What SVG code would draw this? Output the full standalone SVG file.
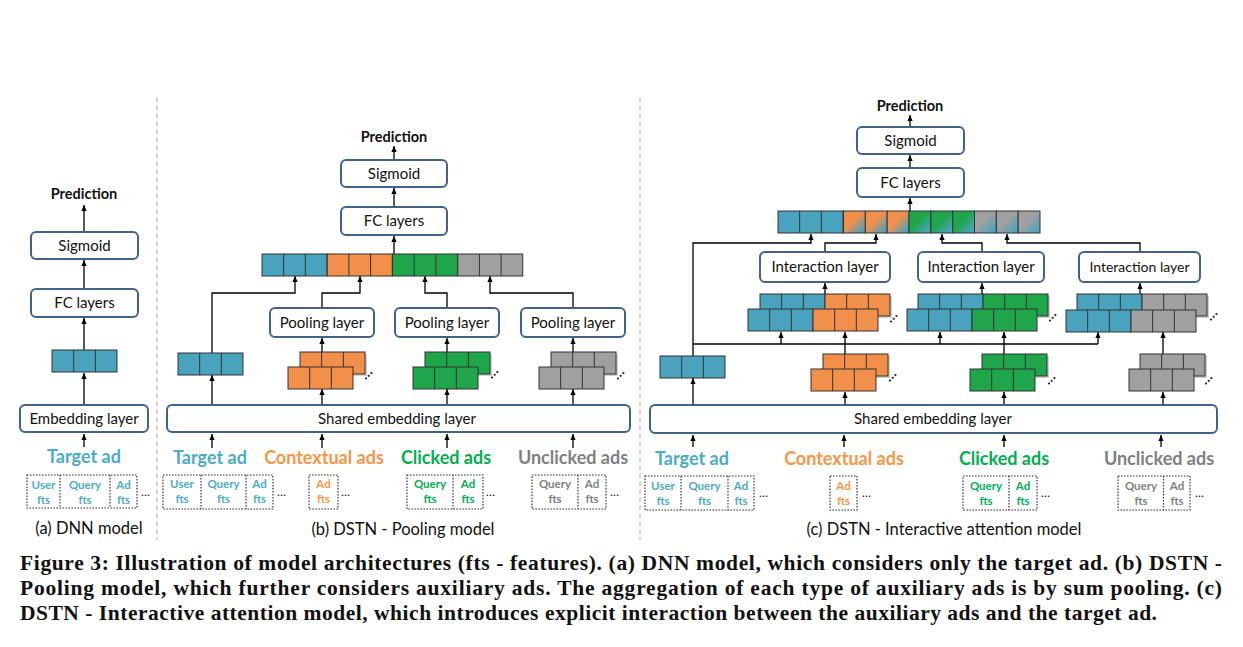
<svg xmlns="http://www.w3.org/2000/svg" xmlns:xlink="http://www.w3.org/1999/xlink" width="1243" height="647" viewBox="0 0 1243 647">
<style>
.box{fill:#fff;stroke:#41628f;stroke-width:2}
.lbl{font-family:Lato,"Liberation Sans",sans-serif;font-size:15px;fill:#111;text-anchor:middle}
.pred{font-family:Lato,"Liberation Sans",sans-serif;font-size:14.5px;font-weight:bold;fill:#111;text-anchor:middle}
.src{font-family:Lato,"Liberation Sans",sans-serif;font-size:18px;font-weight:bold;text-anchor:middle}
.ft{font-family:Lato,"Liberation Sans",sans-serif;font-size:11.5px;font-weight:bold;text-anchor:middle}
.ell{font-family:Lato,"Liberation Sans",sans-serif;font-size:12px;fill:#111}
.sub{font-family:Lato,"Liberation Sans",sans-serif;font-size:16.5px;fill:#111;text-anchor:middle}
.cap{font-family:"Liberation Serif",serif;font-size:21.5px;font-weight:bold;fill:#111}
.fbox{fill:none;stroke:#333;stroke-width:1.2;stroke-dasharray:1.6 1.4}
.arr{fill:none;stroke:#000;stroke-width:1.3;marker-end:url(#ah)}
.ln{fill:none;stroke:#000;stroke-width:1.3}
.sep{stroke:#c4c4c4;stroke-width:1.3;stroke-dasharray:5 3}
.cell{stroke:#333;stroke-width:1}
.shadow{fill:#bdbdbd;opacity:0.7}
.t{fill:#4bacc6}.o{fill:#f79646}.g{fill:#00b050}.y{fill:#808080}
</style>
<defs>
<marker id="ah" viewBox="0 0 6 6" refX="6" refY="3" markerWidth="6" markerHeight="6" markerUnits="userSpaceOnUse" orient="auto"><path d="M0,0.4L6,3L0,5.6z" fill="#000"/></marker>
<g id="c3"><rect width="65" height="22" stroke="#333" stroke-width="1"/><path d="M21.67,0V22M43.33,0V22" stroke="#333" stroke-width="1" fill="none"/></g>
<g id="dots" fill="#222"><circle cx="0" cy="4.5" r="1.1"/><circle cx="2.7" cy="1.8" r="1.1"/><circle cx="5.4" cy="-0.9" r="1.1"/></g>
<linearGradient id="go" x1="0" y1="0" x2="1" y2="1"><stop offset="0.45" stop-color="#f28f4a"/><stop offset="0.9" stop-color="#4aa3be"/></linearGradient>
<linearGradient id="gg" x1="0" y1="0" x2="1" y2="1"><stop offset="0.45" stop-color="#1fa64a"/><stop offset="0.9" stop-color="#4aa3be"/></linearGradient>
<linearGradient id="gy" x1="0" y1="0" x2="1" y2="1"><stop offset="0.45" stop-color="#a0a0a0"/><stop offset="0.9" stop-color="#4aa3be"/></linearGradient>
</defs>
<rect width="1243" height="647" fill="#fff"/>

<g id="separators">
<line class="sep" x1="157" y1="97" x2="157" y2="540"/>
<line class="sep" x1="640" y1="97" x2="640" y2="540"/>
</g>

<!-- connectors -->
<g id="connectors">
<!-- panel a -->
<line class="arr" x1="84" y1="232" x2="84" y2="205"/>
<line class="arr" x1="84" y1="289" x2="84" y2="260"/>
<line class="arr" x1="84" y1="350" x2="84" y2="318"/>
<line class="arr" x1="84" y1="405" x2="84" y2="373"/>
<line class="arr" x1="84" y1="447" x2="84" y2="434"/>
<!-- panel b -->
<line class="arr" x1="394" y1="160" x2="394" y2="146"/>
<line class="arr" x1="394" y1="207" x2="394" y2="188"/>
<line class="arr" x1="394" y1="254" x2="394" y2="236"/>
<path class="arr" d="M212,353V293H295V276"/>
<path class="arr" d="M322,308V293H360V276"/>
<path class="arr" d="M447,308V293H425V276"/>
<path class="arr" d="M573,308V293H490V276"/>
<line class="arr" x1="322" y1="352" x2="322" y2="338"/>
<line class="arr" x1="447" y1="352" x2="447" y2="338"/>
<line class="arr" x1="573" y1="352" x2="573" y2="338"/>
<line class="arr" x1="212" y1="405" x2="212" y2="375"/>
<line class="arr" x1="322" y1="405" x2="322" y2="389"/>
<line class="arr" x1="447" y1="405" x2="447" y2="389"/>
<line class="arr" x1="573" y1="405" x2="573" y2="389"/>
<line class="arr" x1="212" y1="448" x2="212" y2="434"/>
<line class="arr" x1="322" y1="448" x2="322" y2="434"/>
<line class="arr" x1="447" y1="448" x2="447" y2="434"/>
<line class="arr" x1="573" y1="448" x2="573" y2="434"/>
<!-- panel c -->
<line class="arr" x1="910" y1="127" x2="910" y2="115"/>
<line class="arr" x1="910" y1="168" x2="910" y2="155"/>
<line class="arr" x1="910" y1="211" x2="910" y2="198"/>
<path class="arr" d="M693,356V243H811V234"/>
<path class="arr" d="M825,252V243H876V234"/>
<path class="arr" d="M982,252V243H942V234"/>
<path class="arr" d="M1140,252V243H1007V234"/>
<line class="arr" x1="825" y1="294" x2="825" y2="283"/>
<line class="arr" x1="982" y1="294" x2="982" y2="283"/>
<line class="arr" x1="1140" y1="294" x2="1140" y2="283"/>
<line class="ln" x1="693" y1="344" x2="1098" y2="344"/>
<line class="arr" x1="781" y1="344" x2="781" y2="332"/>
<line class="arr" x1="940" y1="344" x2="940" y2="332"/>
<line class="arr" x1="1098" y1="344" x2="1098" y2="332"/>
<line class="arr" x1="845" y1="354" x2="845" y2="332"/>
<line class="arr" x1="1004" y1="354" x2="1004" y2="332"/>
<line class="arr" x1="1163" y1="354" x2="1163" y2="332"/>
<line class="arr" x1="693" y1="405" x2="693" y2="378"/>
<line class="arr" x1="845" y1="405" x2="845" y2="392"/>
<line class="arr" x1="1004" y1="405" x2="1004" y2="392"/>
<line class="arr" x1="1163" y1="405" x2="1163" y2="392"/>
<line class="arr" x1="693" y1="447" x2="693" y2="435"/>
<line class="arr" x1="844" y1="447" x2="844" y2="435"/>
<line class="arr" x1="1004" y1="447" x2="1004" y2="435"/>
<line class="arr" x1="1161" y1="447" x2="1161" y2="435"/>
</g>

<!-- Panel (a) -->
<g id="a-pred"><text class="pred" x="84" y="199">Prediction</text></g>
<g id="a-sigmoid"><rect class="box" x="31" y="232" width="107" height="27" rx="5"/><text class="lbl" x="84.5" y="251">Sigmoid</text></g>
<g id="a-fc"><rect class="box" x="31" y="289" width="107" height="28" rx="5"/><text class="lbl" x="84.5" y="308">FC layers</text></g>
<g id="a-vec"><use href="#c3" x="52" y="350" fill="#4aa3be"/></g>
<g id="a-emb"><rect class="box" x="20" y="405" width="128" height="27" rx="5"/><text class="lbl" x="84" y="424">Embedding layer</text></g>
<g id="a-target"><text class="src t" x="84" y="463">Target ad</text></g>
<g id="a-feat">
<rect class="fbox" x="27" y="475" width="110" height="33"/><path class="fbox" d="M60,475V508M110,475V508"/>
<text class="ft t" x="43.5" y="489">User</text><text class="ft t" x="43.5" y="504">fts</text>
<text class="ft t" x="85" y="489">Query</text><text class="ft t" x="85" y="504">fts</text>
<text class="ft t" x="123.5" y="489">Ad</text><text class="ft t" x="123.5" y="504">fts</text>
<text class="ell" x="141" y="496">…</text>
</g>
<g id="a-caption"><text class="sub" x="89" y="534">(a) DNN model</text></g>

<!-- Panel (b) -->
<g id="b-pred"><text class="pred" x="394" y="142">Prediction</text></g>
<g id="b-sigmoid"><rect class="box" x="341" y="160" width="106" height="27" rx="5"/><text class="lbl" x="394" y="179">Sigmoid</text></g>
<g id="b-fc"><rect class="box" x="341" y="207" width="106" height="28" rx="5"/><text class="lbl" x="394" y="226">FC layers</text></g>
<g id="b-concat">
<use href="#c3" x="262" y="254" fill="#4aa3be"/>
<use href="#c3" x="327.25" y="254" fill="#f28f4a"/>
<use href="#c3" x="392.5" y="254" fill="#1fa64a"/>
<use href="#c3" x="457.75" y="254" fill="#a0a0a0"/>
</g>
<g id="b-pool1"><rect class="box" x="270" y="308" width="104" height="29" rx="5"/><text class="lbl" x="322" y="328">Pooling layer</text></g>
<g id="b-pool2"><rect class="box" x="395" y="308" width="104" height="29" rx="5"/><text class="lbl" x="447" y="328">Pooling layer</text></g>
<g id="b-pool3"><rect class="box" x="521" y="308" width="104" height="29" rx="5"/><text class="lbl" x="573" y="328">Pooling layer</text></g>
<g id="b-tvec"><use href="#c3" x="178" y="353" fill="#4aa3be"/></g>
<g id="b-ovec">
<rect class="shadow" x="302" y="354" width="65" height="22"/>
<use href="#c3" x="300" y="352" fill="#f28f4a"/>
<use href="#c3" x="288" y="367" fill="#f28f4a"/>
<use href="#dots" x="366" y="374"/>
</g>
<g id="b-gvec">
<rect class="shadow" x="427" y="354" width="65" height="22"/>
<use href="#c3" x="425" y="352" fill="#1fa64a"/>
<use href="#c3" x="413" y="367" fill="#1fa64a"/>
<use href="#dots" x="492" y="373"/>
</g>
<g id="b-yvec">
<rect class="shadow" x="553" y="354" width="65" height="22"/>
<use href="#c3" x="551" y="352" fill="#a0a0a0"/>
<use href="#c3" x="539" y="367" fill="#a0a0a0"/>
<use href="#dots" x="618" y="374"/>
</g>
<g id="b-emb"><rect class="box" x="167" y="405" width="463" height="27" rx="5"/><text class="lbl" x="397" y="424">Shared embedding layer</text></g>
<g id="b-labels">
<text class="src t" x="210" y="464">Target ad</text>
<text class="src o" x="324" y="464">Contextual ads</text>
<text class="src g" x="446" y="464">Clicked ads</text>
<text class="src y" x="573" y="464">Unclicked ads</text>
</g>
<g id="b-feat">
<rect class="fbox" x="163" y="475" width="110" height="34"/><path class="fbox" d="M201,475V509M246,475V509"/>
<text class="ft t" x="182" y="488">User</text><text class="ft t" x="182" y="503">fts</text>
<text class="ft t" x="223.5" y="488">Query</text><text class="ft t" x="223.5" y="503">fts</text>
<text class="ft t" x="259.5" y="488">Ad</text><text class="ft t" x="259.5" y="503">fts</text>
<text class="ell" x="277" y="496">…</text>
<rect class="fbox" x="309" y="475" width="29" height="34"/>
<text class="ft o" x="323.5" y="488">Ad</text><text class="ft o" x="323.5" y="503">fts</text>
<text class="ell" x="341" y="496">…</text>
<rect class="fbox" x="407" y="475" width="76" height="34"/><path class="fbox" d="M453,475V509"/>
<text class="ft g" x="430" y="488">Query</text><text class="ft g" x="430" y="503">fts</text>
<text class="ft g" x="468" y="488">Ad</text><text class="ft g" x="468" y="503">fts</text>
<text class="ell" x="486" y="496">…</text>
<rect class="fbox" x="532" y="475" width="74" height="34"/><path class="fbox" d="M578,475V509"/>
<text class="ft y" x="555" y="488">Query</text><text class="ft y" x="555" y="503">fts</text>
<text class="ft y" x="592" y="488">Ad</text><text class="ft y" x="592" y="503">fts</text>
<text class="ell" x="610" y="496">…</text>
</g>
<g id="b-caption"><text class="sub" x="403" y="535">(b) DSTN - Pooling model</text></g>

<!-- Panel (c) -->
<g id="c-pred"><text class="pred" x="910" y="111">Prediction</text></g>
<g id="c-sigmoid"><rect class="box" x="857" y="127" width="107" height="27" rx="5"/><text class="lbl" x="910.5" y="146">Sigmoid</text></g>
<g id="c-fc"><rect class="box" x="857" y="168" width="107" height="29" rx="5"/><text class="lbl" x="910.5" y="188">FC layers</text></g>
<g id="c-concat" class="cell">
<use href="#c3" x="778" y="211" fill="#4aa3be"/>
<rect x="843.5" y="211" width="21.83" height="22" fill="url(#go)"/>
<rect x="865.33" y="211" width="21.83" height="22" fill="url(#go)"/>
<rect x="887.17" y="211" width="21.83" height="22" fill="url(#go)"/>
<rect x="909" y="211" width="21.83" height="22" fill="url(#gg)"/>
<rect x="930.83" y="211" width="21.83" height="22" fill="url(#gg)"/>
<rect x="952.67" y="211" width="21.83" height="22" fill="url(#gg)"/>
<rect x="974.5" y="211" width="21.83" height="22" fill="url(#gy)"/>
<rect x="996.33" y="211" width="21.83" height="22" fill="url(#gy)"/>
<rect x="1018.17" y="211" width="21.83" height="22" fill="url(#gy)"/>
</g>
<g id="c-int1"><rect class="box" x="760" y="252" width="130" height="30" rx="5"/><text class="lbl" x="825" y="272">Interaction layer</text></g>
<g id="c-int2"><rect class="box" x="918" y="252" width="126" height="30" rx="5"/><text class="lbl" x="981" y="272">Interaction layer</text></g>
<g id="c-int3"><rect class="box" x="1079" y="252" width="121" height="30" rx="5"/><text class="lbl" x="1139.5" y="272" style="font-size:14px">Interaction layer</text></g>
<g id="c-istack1">
<rect class="shadow" x="762" y="296" width="130" height="22"/>
<use href="#c3" x="760" y="294" fill="#4aa3be"/><use href="#c3" x="825" y="294" fill="#f28f4a"/>
<use href="#c3" x="748" y="309" fill="#4aa3be"/><use href="#c3" x="813" y="309" fill="#f28f4a"/>
<use href="#dots" x="891" y="317"/>
</g>
<g id="c-istack2">
<rect class="shadow" x="920" y="296" width="130" height="22"/>
<use href="#c3" x="918" y="294" fill="#4aa3be"/><use href="#c3" x="983" y="294" fill="#1fa64a"/>
<use href="#c3" x="907" y="309" fill="#4aa3be"/><use href="#c3" x="972" y="309" fill="#1fa64a"/>
<use href="#dots" x="1050" y="316"/>
</g>
<g id="c-istack3">
<rect class="shadow" x="1079" y="296" width="130" height="22"/>
<use href="#c3" x="1077" y="294" fill="#4aa3be"/><use href="#c3" x="1142" y="294" fill="#a0a0a0"/>
<use href="#c3" x="1066" y="310" fill="#4aa3be"/><use href="#c3" x="1131" y="310" fill="#a0a0a0"/>
<use href="#dots" x="1211" y="315"/>
</g>
<g id="c-tvec"><use href="#c3" x="660" y="356" fill="#4aa3be"/></g>
<g id="c-ovec">
<rect class="shadow" x="825" y="356" width="65" height="22"/>
<use href="#c3" x="823" y="354" fill="#f28f4a"/>
<use href="#c3" x="811" y="369" fill="#f28f4a"/>
<use href="#dots" x="890" y="376"/>
</g>
<g id="c-gvec">
<rect class="shadow" x="984" y="356" width="65" height="22"/>
<use href="#c3" x="982" y="354" fill="#1fa64a"/>
<use href="#c3" x="970" y="369" fill="#1fa64a"/>
<use href="#dots" x="1049" y="379"/>
</g>
<g id="c-yvec">
<rect class="shadow" x="1142" y="356" width="65" height="22"/>
<use href="#c3" x="1140" y="354" fill="#a0a0a0"/>
<use href="#c3" x="1129" y="369" fill="#a0a0a0"/>
<use href="#dots" x="1206" y="379"/>
</g>
<g id="c-emb"><rect class="box" x="650" y="405" width="567" height="28" rx="5"/><text class="lbl" x="933" y="424">Shared embedding layer</text></g>
<g id="c-labels">
<text class="src t" x="692" y="465">Target ad</text>
<text class="src o" x="844" y="465">Contextual ads</text>
<text class="src g" x="1004" y="465">Clicked ads</text>
<text class="src y" x="1159" y="465">Unclicked ads</text>
</g>
<g id="c-feat">
<rect class="fbox" x="645" y="476" width="109" height="34"/><path class="fbox" d="M681,476V510M728,476V510"/>
<text class="ft t" x="663" y="490">User</text><text class="ft t" x="663" y="505">fts</text>
<text class="ft t" x="704.5" y="490">Query</text><text class="ft t" x="704.5" y="505">fts</text>
<text class="ft t" x="741" y="490">Ad</text><text class="ft t" x="741" y="505">fts</text>
<text class="ell" x="759" y="497">…</text>
<rect class="fbox" x="830" y="476" width="27" height="34"/>
<text class="ft o" x="843.5" y="490">Ad</text><text class="ft o" x="843.5" y="505">fts</text>
<text class="ell" x="862" y="497">…</text>
<rect class="fbox" x="963" y="476" width="74" height="34"/><path class="fbox" d="M1009,476V510"/>
<text class="ft g" x="986" y="490">Query</text><text class="ft g" x="986" y="505">fts</text>
<text class="ft g" x="1023" y="490">Ad</text><text class="ft g" x="1023" y="505">fts</text>
<text class="ell" x="1041" y="497">…</text>
<rect class="fbox" x="1118" y="476" width="72" height="34"/><path class="fbox" d="M1163.5,476V510"/>
<text class="ft y" x="1141" y="490">Query</text><text class="ft y" x="1141" y="505">fts</text>
<text class="ft y" x="1177" y="490">Ad</text><text class="ft y" x="1177" y="505">fts</text>
<text class="ell" x="1195" y="497">…</text>
</g>
<g id="c-caption"><text class="sub" x="944" y="535">(c) DSTN - Interactive attention model</text></g>

<g id="caption">
<text class="cap" x="20" y="570" textLength="1202" lengthAdjust="spacing">Figure 3: Illustration of model architectures (fts - features). (a) DNN model, which considers only the target ad. (b) DSTN -</text>
<text class="cap" x="20" y="595" textLength="1202" lengthAdjust="spacing">Pooling model, which further considers auxiliary ads. The aggregation of each type of auxiliary ads is by sum pooling. (c)</text>
<text class="cap" x="20" y="620" textLength="1137" lengthAdjust="spacing">DSTN - Interactive attention model, which introduces explicit interaction between the auxiliary ads and the target ad.</text>
</g>
</svg>
